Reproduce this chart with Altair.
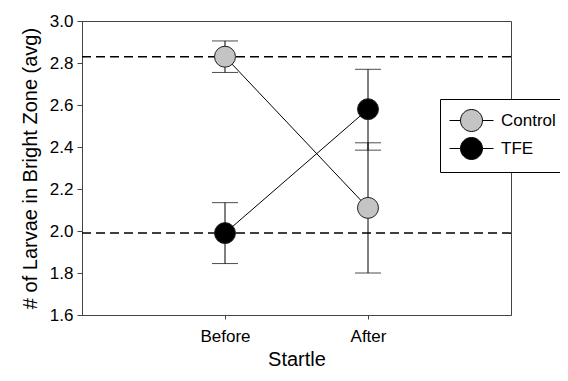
import altair as alt
import pandas as pd

# ---- data ----
groups = ["Control", "Control", "TFE", "TFE"]
startle = ["Before", "After", "Before", "After"]
means = [2.83, 2.11, 1.99, 2.58]
err_lo = [2.755, 1.80, 1.845, 2.385]
err_hi = [2.905, 2.42, 2.135, 2.77]
ref_levels = [2.83, 1.99]
x_order = ["Before", "After"]
group_order = ["Control", "TFE"]
group_fill = ["#c4c4c4", "#000000"]
y_ticks = [1.6, 1.8, 2.0, 2.2, 2.4, 2.6, 2.8, 3.0]

df = pd.DataFrame({
    "group": groups,
    "startle": startle,
    "mean": means,
    "lo": err_lo,
    "hi": err_hi,
})
refs = pd.DataFrame({"level": ref_levels})

FONT = "Liberation Sans"
Y_TITLE = "# of Larvae in Bright Zone (avg)"

x_scale = alt.Scale(type="point", domain=x_order, padding=1)
y_scale = alt.Scale(domain=[1.6, 3.0], nice=False, zero=False)
x_axis = alt.Axis(title="Startle", labelAngle=0, tickSize=4, labelPadding=9,
                  titlePadding=5)
y_axis = alt.Axis(title=Y_TITLE, values=y_ticks, format=".1f", tickSize=5,
                  labelPadding=4, titlePadding=9)


def X():
    return alt.X("startle:N", scale=x_scale, axis=x_axis, sort=x_order)


def Y(field):
    return alt.Y(f"{field}:Q", scale=y_scale, axis=y_axis)


ref_rules = alt.Chart(refs).mark_rule(
    color="#000", strokeWidth=1.5, strokeDash=[9, 5]
).encode(y=Y("level"))

lines = alt.Chart(df).mark_line(color="#000", strokeWidth=1).encode(
    x=X(), y=Y("mean"), detail="group:N"
)

err_rules = alt.Chart(df).mark_rule(color="#000", strokeWidth=1).encode(
    x=X(), y=Y("lo"), y2="hi:Q"
)
cap_lo = alt.Chart(df).mark_tick(color="#000", size=26, thickness=1, orient="horizontal").encode(
    x=X(), y=Y("lo")
)
cap_hi = alt.Chart(df).mark_tick(color="#000", size=26, thickness=1, orient="horizontal").encode(
    x=X(), y=Y("hi")
)

legend_symbol = ("M-2,0L-1,0M1,0L2,0"
                 "M-1,0A1,1 0 1,1 1,0A1,1 0 1,1 -1,0Z")

points = alt.Chart(df).mark_point(
    filled=True, shape="circle", size=440, stroke="#222", strokeWidth=1, opacity=1
).encode(
    x=X(), y=Y("mean"),
    fill=alt.Fill(
        "group:N",
        scale=alt.Scale(domain=group_order, range=group_fill),
        legend=alt.Legend(
            title=None, orient="none", legendX=358, legendY=78,
            symbolType=legend_symbol, symbolSize=484,
            symbolStrokeColor="#000", symbolStrokeWidth=1, symbolOpacity=1,
            symbolOffset=10, labelOffset=18,
            labelFont=FONT, labelFontSize=17, labelColor="#000",
            strokeColor="#000", fillColor="#fff", padding=10, rowPadding=1,
        ),
    ),
)

chart = alt.layer(ref_rules, lines, err_rules, cap_lo, cap_hi, points).properties(
    width=429, height=294,
    padding={"left": 74, "top": 13, "right": 49, "bottom": 58},
    autosize=alt.AutoSizeParams(type="none"),
    background="#ffffff",
).configure_view(
    stroke="#444", strokeWidth=1
).configure_axis(
    grid=False, domainColor="#444", tickColor="#444", domainWidth=1,
    labelFont=FONT, labelFontSize=17, labelColor="#000",
    titleFont=FONT, titleFontSize=20, titleFontWeight="normal", titleColor="#000",
)

chart.save("out.html", embed_options={"renderer": "svg", "actions": False})
